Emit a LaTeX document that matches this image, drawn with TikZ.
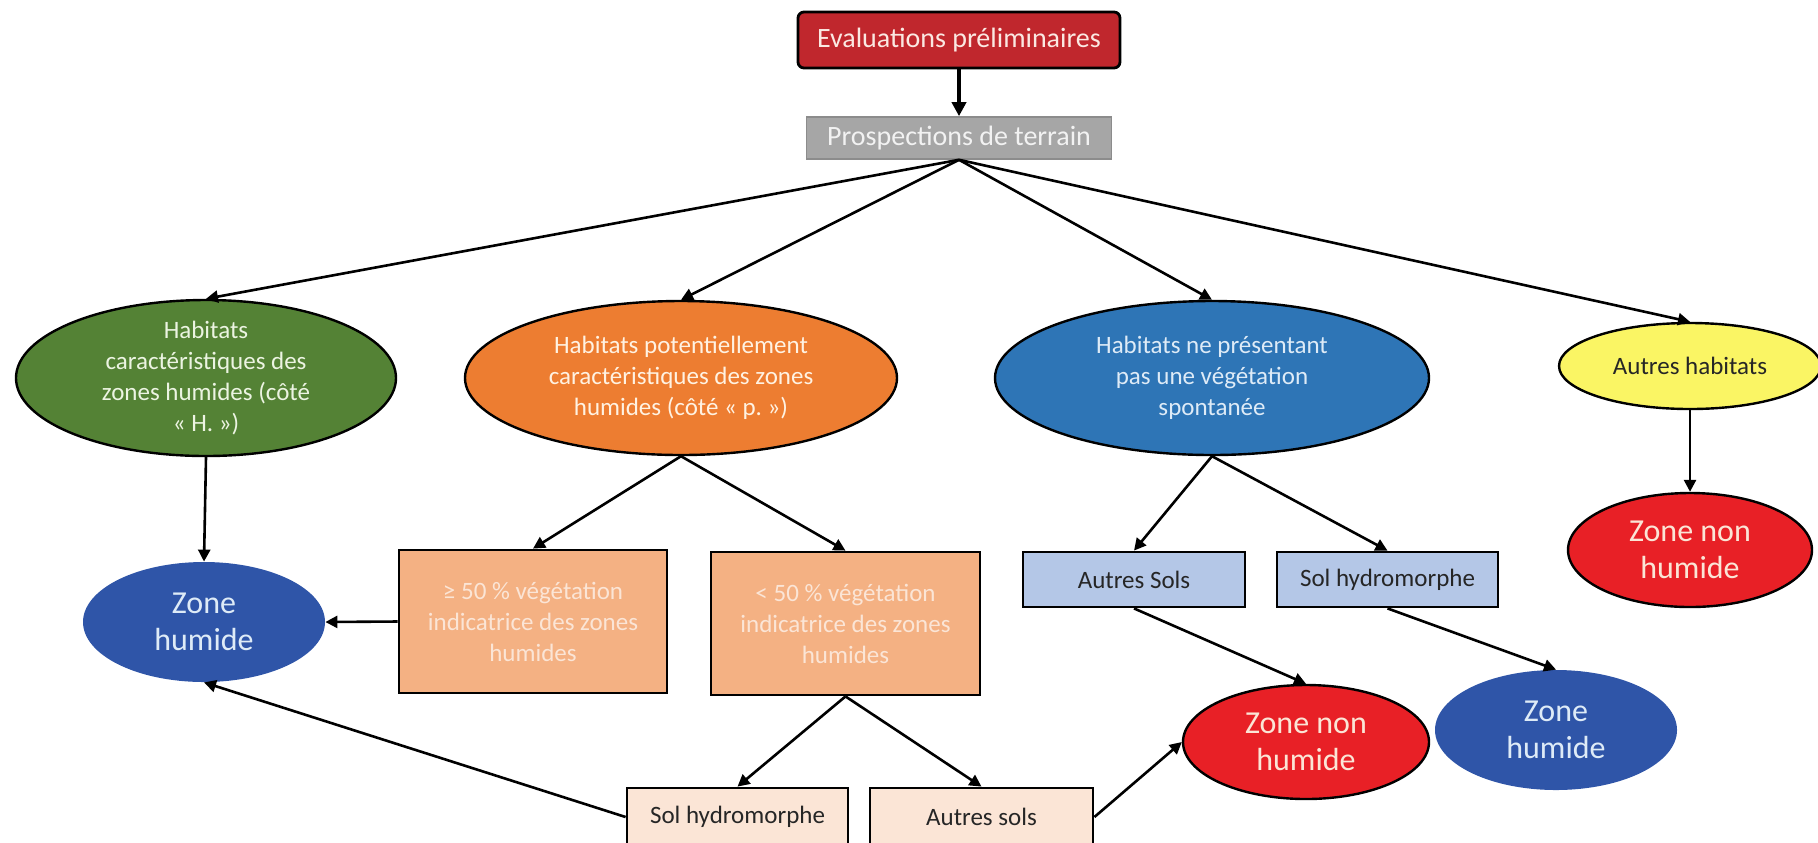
\documentclass[tikz,border=0pt]{standalone}
\usepackage{fontspec}
\setmainfont{Carlito}
\usetikzlibrary{shapes.geometric, arrows.meta}

\definecolor{evalred}{RGB}{192,39,45}
\definecolor{evaltext}{RGB}{251,232,226}
\definecolor{prospgray}{RGB}{166,166,166}
\definecolor{prospedge}{RGB}{140,140,140}
\definecolor{prosptext}{RGB}{242,242,242}
\definecolor{greenhab}{RGB}{84,130,53}
\definecolor{greentext}{RGB}{236,244,226}
\definecolor{orangehab}{RGB}{237,125,49}
\definecolor{orangetext}{RGB}{255,242,226}
\definecolor{bluehab}{RGB}{46,117,182}
\definecolor{bluetext}{RGB}{222,235,247}
\definecolor{yellowhab}{RGB}{250,245,100}
\definecolor{zhblue}{RGB}{47,85,168}
\definecolor{znhred}{RGB}{232,32,38}
\definecolor{znhtext}{RGB}{251,229,214}
\definecolor{peach}{RGB}{244,177,131}
\definecolor{peachtext}{RGB}{251,229,214}
\definecolor{lightpeach}{RGB}{251,229,214}
\definecolor{bluegray}{RGB}{180,199,231}
\definecolor{darktext}{RGB}{38,38,38}

\begin{document}
\begin{tikzpicture}[x=0.5pt, y=-0.5pt,
    hab/.style={ellipse, draw, line width=1.2pt, inner xsep=0pt, inner ysep=-12pt,
                align=center, font=\fontsize{12.5}{15.5}\selectfont},
    zone/.style={ellipse, inner xsep=0pt, inner ysep=-8pt,
                 align=center, font=\fontsize{16}{18.5}\selectfont},
    box/.style={rectangle, draw, line width=1.4pt, inner sep=2pt,
                align=center, font=\fontsize{12.5}{15.5}\selectfont},
    arr/.style={-{Triangle[length=6pt,width=6pt]}, line width=1.3pt}]
    \useasboundingbox (0,0) rectangle (1818,842);

    \node[rectangle, draw, rounded corners=3pt, line width=1.4pt, fill=evalred, text=evaltext,
          minimum width=161pt, minimum height=28pt, font=\fontsize{14}{17}\selectfont]
          (eval) at (959,40) {Evaluations préliminaires};
    \node[rectangle, draw=prospedge, line width=0.8pt, fill=prospgray, text=prosptext,
          minimum width=152.5pt, minimum height=21pt, font=\fontsize{14}{17}\selectfont]
          (prosp) at (959,138) {Prospections de terrain};

    \node[hab, fill=greenhab, text=greentext, minimum width=190pt, minimum height=78pt]
          (hum) at (206,378) {Habitats\\caractéristiques des\\zones humides (côté\\«~H.~»)};
    \node[hab, fill=orangehab, text=orangetext, minimum width=216pt, minimum height=77pt]
          (pot) at (681,378) {Habitats potentiellement\\caractéristiques des zones\\humides (côté «~p.~»)};
    \node[hab, fill=bluehab, text=bluetext, minimum width=217pt, minimum height=77pt]
          (spont) at (1212,378) {Habitats ne présentant\\pas une végétation\\spontanée};
    \node[hab, fill=yellowhab, text=darktext, minimum width=131pt, minimum height=43pt]
          (autres) at (1690,366) {Autres habitats};

    \node[box, fill=peach, text=peachtext, minimum width=134pt, minimum height=71.5pt]
          (plus) at (533,621.5) {≥ 50 \% végétation\\indicatrice des zones\\humides};
    \node[box, fill=peach, text=peachtext, minimum width=134.5pt, minimum height=71.5pt]
          (moins) at (845.5,623.5) {< 50 \% végétation\\indicatrice des zones\\humides};
    \node[box, fill=bluegray, text=darktext, minimum width=111pt, minimum height=27.5pt]
          (sols1) at (1134,579.5) {Autres Sols};
    \node[box, fill=bluegray, text=darktext, minimum width=110.5pt, minimum height=27.5pt]
          (hydro1) at (1387.5,579.5) {Sol hydromorphe};
    \node[box, fill=lightpeach, text=darktext, minimum width=110.5pt, minimum height=29pt]
          (hydro2) at (737.5,817) {Sol hydromorphe};
    \node[box, fill=lightpeach, text=darktext, minimum width=111.5pt, minimum height=29pt]
          (sols2) at (981.5,817) {Autres sols};

    \node[zone, fill=zhblue, text=bluetext, minimum width=121pt, minimum height=60pt]
          (zh1) at (204,622) {Zone\\humide};
    \node[zone, fill=zhblue, text=bluetext, minimum width=121pt, minimum height=60pt]
          (zh2) at (1556,730) {Zone\\humide};
    \node[zone, draw, line width=1.2pt, fill=znhred, text=znhtext, minimum width=122pt, minimum height=57pt]
          (znh1) at (1690,550) {Zone non\\humide};
    \node[zone, draw, line width=1.2pt, fill=znhred, text=znhtext, minimum width=123pt, minimum height=57pt]
          (znh2) at (1306,742) {Zone non\\humide};

    \draw[-{Triangle[length=7pt,width=7pt]}, line width=2pt] (eval.south) -- (prosp.north);
    \foreach \n in {hum, pot, spont, autres}
        \draw[arr] (prosp.south) -- (\n.north);
    \draw[arr] (hum.south) -- (zh1.north);
    \draw[arr] (pot.south) -- (plus.north);
    \draw[arr] (pot.south) -- (moins.north);
    \draw[arr] (plus.west) -- (zh1.east);
    \draw[arr] (moins.south) -- (hydro2.north);
    \draw[arr] (moins.south) -- (sols2.north);
    \draw[arr] (hydro2.west) -- (zh1.south);
    \draw[arr] (sols2.east) -- (znh2.west);
    \draw[arr] (spont.south) -- (sols1.north);
    \draw[arr] (spont.south) -- (hydro1.north);
    \draw[arr] (sols1.south) -- (znh2.north);
    \draw[arr] (hydro1.south) -- (zh2.north);
    \draw[arr] (autres.south) -- (znh1.north);
\end{tikzpicture}
\end{document}
